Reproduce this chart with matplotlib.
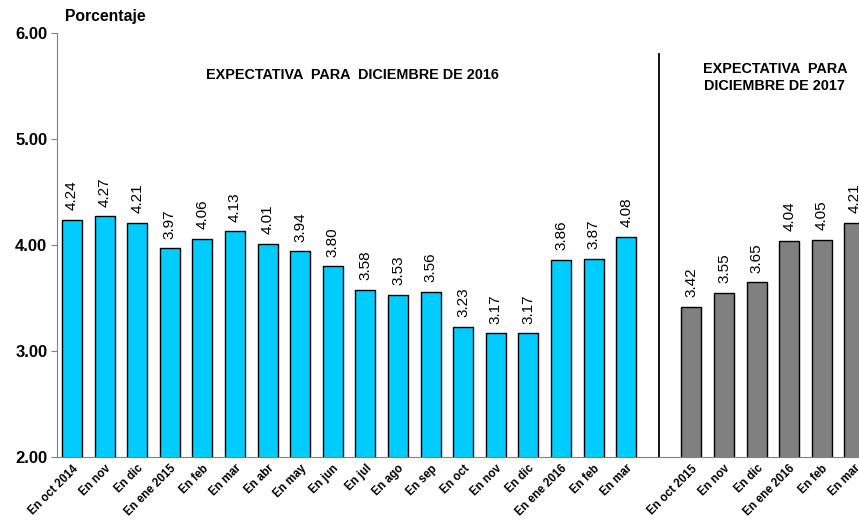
import numpy as np
import matplotlib.pyplot as plt

plt.rcParams['font.family'] = ['Liberation Sans', 'DejaVu Sans']

labels_2016 = ["En oct 2014", "En nov", "En dic", "En ene 2015", "En feb", "En mar",
               "En abr", "En may", "En jun", "En jul", "En ago", "En sep",
               "En oct", "En nov", "En dic", "En ene 2016", "En feb", "En mar"]
vals_2016 = [4.24, 4.27, 4.21, 3.97, 4.06, 4.13, 4.01, 3.94, 3.80, 3.58, 3.53, 3.56,
             3.23, 3.17, 3.17, 3.86, 3.87, 4.08]
labels_2017 = ["En oct 2015", "En nov", "En dic", "En ene 2016", "En feb", "En mar"]
vals_2017 = [3.42, 3.55, 3.65, 4.04, 4.05, 4.21]

x1 = np.arange(len(vals_2016))
sep = len(vals_2016)
x2 = np.arange(len(vals_2017)) + sep + 1

fig = plt.figure(figsize=(8.59, 5.20), dpi=100)
ax = fig.add_axes([0.0664, 0.121, 0.9336, 0.8155])

ax.bar(x1, vals_2016, width=0.61, color='#00CCFF', edgecolor='black', linewidth=1)
ax.bar(x2, vals_2017, width=0.61, color='#808080', edgecolor='black', linewidth=1)

for x, v in list(zip(x1, vals_2016)) + list(zip(x2, vals_2017)):
    ax.text(x, v + 0.09, f"{v:.2f}", rotation=90, ha='center', va='bottom', fontsize=11)

ax.plot([sep, sep], [2.0, 5.8], color='black', linewidth=1.3, clip_on=False)

ax.text(8.59, 5.60, "EXPECTATIVA  PARA  DICIEMBRE DE 2016", ha='center', va='center',
        fontsize=10.4, fontweight='bold')
ax.text(21.56, 5.58, "EXPECTATIVA  PARA\nDICIEMBRE DE 2017", ha='center', va='center',
        fontsize=10.4, fontweight='bold', linespacing=1.35)

ax.set_ylim(2.0, 6.0)
ax.set_xlim(-0.46, 24.14)
ax.set_yticks([2, 3, 4, 5, 6])
ax.set_yticklabels(["2.00", "3.00", "4.00", "5.00", "6.00"], fontsize=12, fontweight='bold')
ax.set_xticks(list(x1) + list(x2))
ax.set_xticklabels(labels_2016 + labels_2017, rotation=45, ha='right',
                   rotation_mode='anchor', fontsize=8.3, fontweight='bold')
ax.tick_params(axis='x', length=0, pad=4)
ax.tick_params(axis='y', length=4, color='#808080', pad=3)

for s in ['top', 'right']:
    ax.spines[s].set_visible(False)
ax.spines['left'].set_color('#808080')
ax.spines['bottom'].set_color('#808080')

fig.text(0.076, 0.968, "Porcentaje", fontsize=11.3, fontweight='bold', ha='left', va='center')

fig.savefig("out.png", dpi=100)
